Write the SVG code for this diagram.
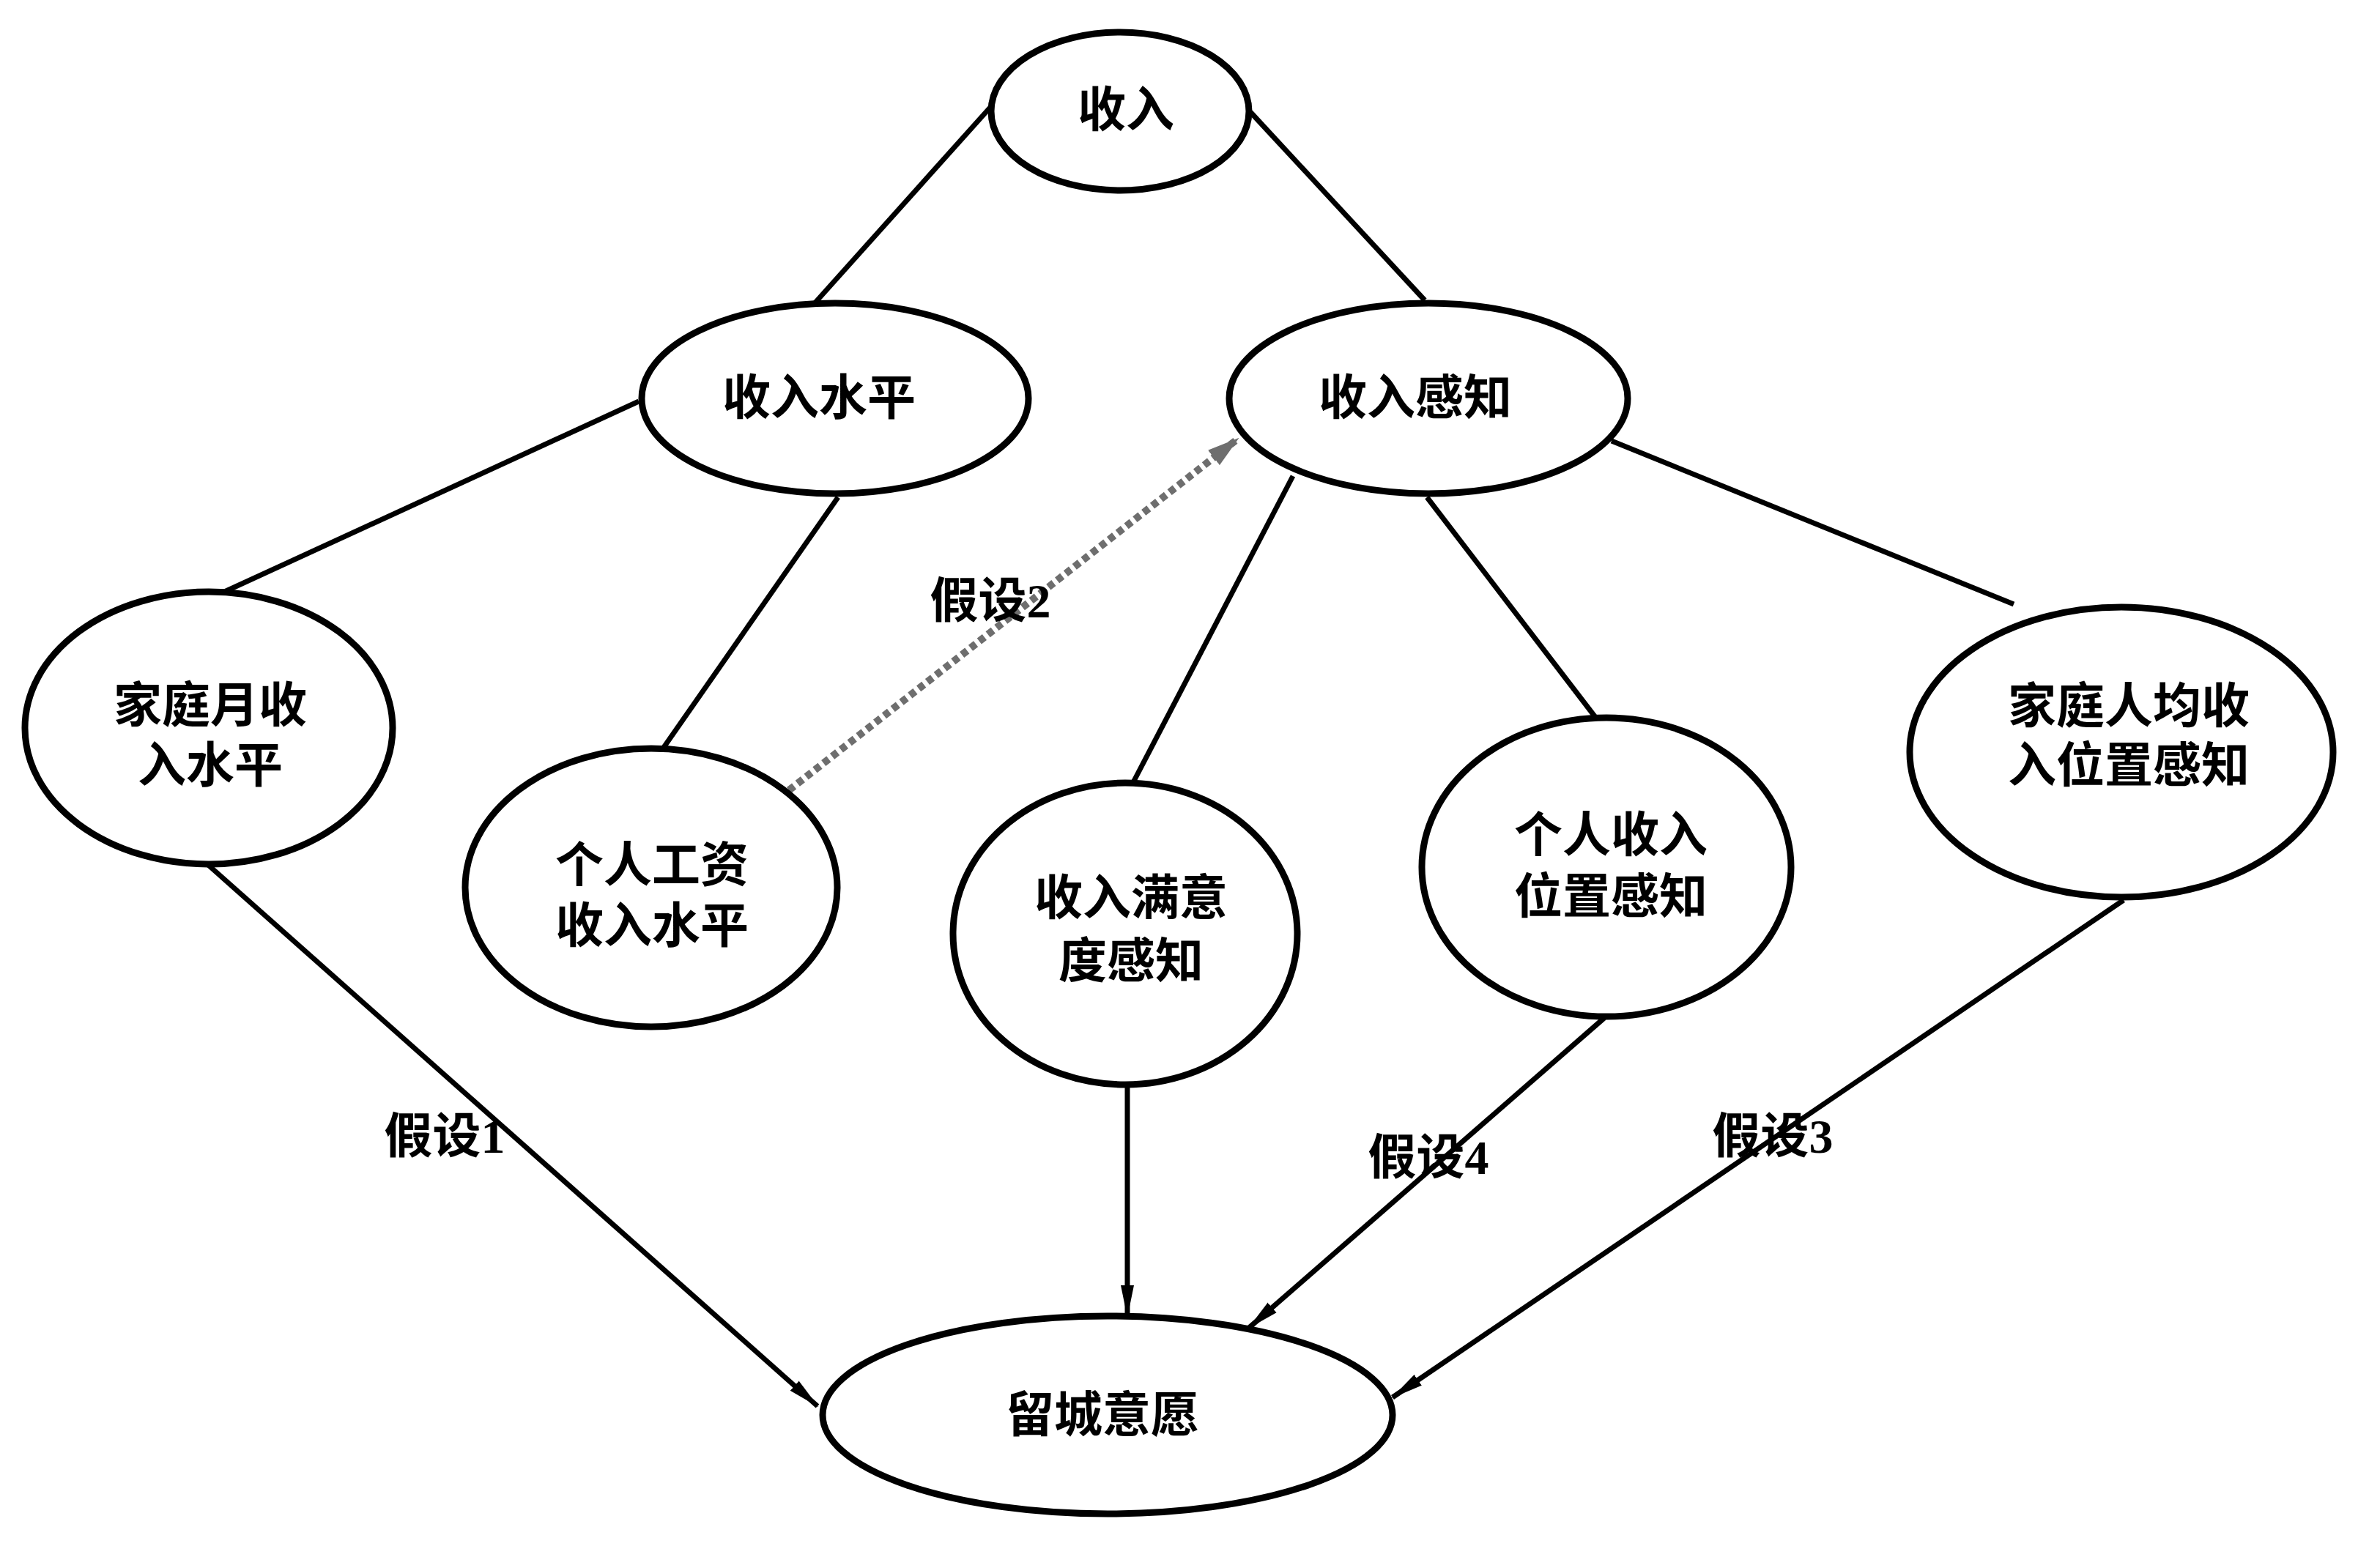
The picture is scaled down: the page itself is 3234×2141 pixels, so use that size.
<svg xmlns="http://www.w3.org/2000/svg" width="3234" height="2141" viewBox="0 0 3234 2141">
<style>
.node{fill:#fff;stroke:#000;stroke-width:9}
.t{font-family:"Liberation Serif","Noto Sans CJK SC",serif;font-size:66px;font-weight:bold;text-anchor:middle;dominant-baseline:central;fill:#000}
.e{stroke:#000;stroke-width:7;fill:none}
.a{stroke:#000;stroke-width:7;fill:none;marker-end:url(#ah)}
.d{stroke:#6e6e6e;stroke-width:10;fill:none;stroke-dasharray:9 6;marker-end:url(#ahg)}
</style>
<defs>
<marker id="ah" viewBox="0 0 44 20" refX="42" refY="10" markerWidth="44" markerHeight="20" markerUnits="userSpaceOnUse" orient="auto">
<path d="M0,1 L44,10 L0,19 Z" fill="#000"/>
</marker>
<marker id="ahg" viewBox="0 0 44 26" refX="42" refY="13" markerWidth="44" markerHeight="26" markerUnits="userSpaceOnUse" orient="auto">
<path d="M0,0 L44,13 L0,26 Z" fill="#6e6e6e"/>
</marker>
</defs>
<rect width="3234" height="2141" fill="#fff"/>
<g id="connectors">
<line class="e" x1="1355" y1="143" x2="1113" y2="413"/>
<line class="e" x1="1707" y1="153" x2="1945" y2="410"/>
<line class="e" x1="872" y1="548" x2="302" y2="810"/>
<line class="e" x1="1144" y1="679" x2="905" y2="1022"/>
<line class="e" x1="1765" y1="650" x2="1545" y2="1072"/>
<line class="e" x1="1948" y1="679" x2="2180" y2="982"/>
<line class="e" x1="2200" y1="602" x2="2749" y2="825"/>
<line class="d" x1="1077" y1="1079" x2="1690" y2="599"/>
<line class="a" x1="283" y1="1180" x2="1116" y2="1920"/>
<line class="a" x1="1539" y1="1481" x2="1539" y2="1797"/>
<line class="a" x1="2190" y1="1390" x2="1705" y2="1813"/>
<line class="a" x1="2899" y1="1229" x2="1901" y2="1908"/>
<text class="t" x="1352" y="820">假设2</text>
<text class="t" x="607" y="1551">假设1</text>
<text class="t" x="1950" y="1580">假设4</text>
<text class="t" x="2420" y="1551">假设3</text>
</g>
<g id="n_income">
<ellipse class="node" cx="1529" cy="152" rx="176" ry="108"/>
<text class="t" x="1537" y="150">收入</text>
</g>
<g id="n_level">
<ellipse class="node" cx="1140" cy="544" rx="264" ry="130"/>
<text class="t" x="1118" y="543">收入水平</text>
</g>
<g id="n_perception">
<ellipse class="node" cx="1950" cy="544" rx="272" ry="130"/>
<text class="t" x="1932" y="543">收入感知</text>
</g>
<g id="n_family_monthly">
<ellipse class="node" cx="285" cy="994" rx="251" ry="186"/>
<text class="t" x="287" y="963">家庭月收</text>
<text class="t" x="287" y="1045">入水平</text>
</g>
<g id="n_personal_wage">
<ellipse class="node" cx="889" cy="1212" rx="254" ry="190"/>
<text class="t" x="890" y="1181">个人工资</text>
<text class="t" x="890" y="1264">收入水平</text>
</g>
<g id="n_satisfaction">
<ellipse class="node" cx="1536" cy="1275" rx="235" ry="206"/>
<text class="t" x="1544" y="1226">收入满意</text>
<text class="t" x="1544" y="1312">度感知</text>
</g>
<g id="n_personal_position">
<ellipse class="node" cx="2193" cy="1184" rx="252" ry="204"/>
<text class="t" x="2199" y="1140">个人收入</text>
<text class="t" x="2199" y="1224">位置感知</text>
</g>
<g id="n_family_position">
<ellipse class="node" cx="2896" cy="1027" rx="289" ry="198"/>
<text class="t" x="2906" y="964">家庭人均收</text>
<text class="t" x="2906" y="1045">入位置感知</text>
</g>
<g id="n_stay">
<ellipse class="node" cx="1512" cy="1932" rx="389" ry="135"/>
<text class="t" x="1505" y="1932">留城意愿</text>
</g>
</svg>
